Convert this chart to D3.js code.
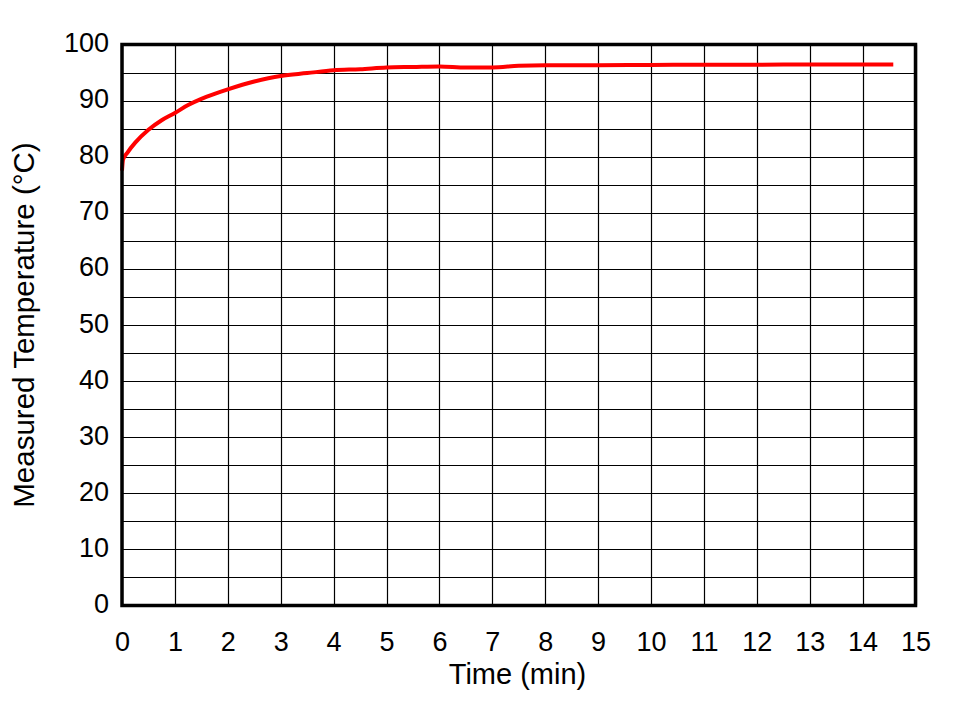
<!DOCTYPE html>
<html>
<head>
<meta charset="utf-8">
<script src="https://cdn.jsdelivr.net/npm/d3@7"></script>
<style>
  html, body { margin: 0; padding: 0; background: #fff; }
  svg { display: block; }
  text { font-family: "Liberation Sans", Arial, sans-serif; fill: #000; }
</style>
</head>
<body>
<svg id="chart" width="956" height="701"></svg>
<script>
const timeMin = [0, 0.02, 0.1, 0.25, 0.5, 0.75, 1, 1.25, 1.5, 1.75, 2, 2.5, 3, 3.5, 4, 4.5, 5, 5.5, 6, 6.5, 7, 7.5, 8, 9, 10, 11, 12, 13, 14, 14.58];
const tempC   = [77.5, 79.5, 80.7, 82.5, 84.8, 86.5, 87.8, 89.2, 90.3, 91.2, 92.0, 93.4, 94.4, 94.9, 95.4, 95.6, 95.9, 96.0, 96.1, 95.9, 95.9, 96.2, 96.3, 96.3, 96.35, 96.4, 96.4, 96.45, 96.45, 96.45];
const xTicks = d3.range(0, 16, 1);
const yTicks = d3.range(0, 101, 10);
const yGrid = d3.range(0, 101, 5);
const xLabel = "Time (min)";
const yLabel = "Measured Temperature (\u00B0C)";

const svg = d3.select("#chart");
const L = 122, R = 915.5, T = 44.5, B = 605.5;
const x = d3.scaleLinear().domain([0, 15]).range([L, R]);
const y = d3.scaleLinear().domain([0, 100]).range([B, T]);

// grid
svg.append("g").selectAll("line").data(xTicks).join("line")
  .attr("x1", d => Math.round(x(d)) + 0.5).attr("x2", d => Math.round(x(d)) + 0.5)
  .attr("y1", T).attr("y2", B)
  .attr("stroke", "#000").attr("stroke-width", 1.2);
svg.append("g").selectAll("line").data(yGrid).join("line")
  .attr("y1", d => Math.round(y(d)) + 0.5).attr("y2", d => Math.round(y(d)) + 0.5)
  .attr("x1", L).attr("x2", R)
  .attr("stroke", "#000").attr("stroke-width", 1.2);

// axes labels via d3 axes (no domain/ticks drawn)
const xAxis = svg.append("g").attr("transform", `translate(0,${B})`)
  .call(d3.axisBottom(x).tickValues(xTicks).tickSize(0).tickPadding(26).tickFormat(d3.format("d")));
xAxis.select(".domain").remove();
xAxis.selectAll("text").attr("font-size", 27).style("font-family", '"Liberation Sans", Arial, sans-serif').attr("fill", "#000");

const yAxis = svg.append("g").attr("transform", `translate(${L},0)`)
  .call(d3.axisLeft(y).tickValues(yTicks).tickSize(0).tickPadding(13).tickFormat(d3.format("d")));
yAxis.select(".domain").remove();
yAxis.selectAll("text").attr("font-size", 27).attr("dy", "0.26em").style("font-family", '"Liberation Sans", Arial, sans-serif').attr("fill", "#000");

// data line
const line = d3.line().x((d, i) => x(timeMin[i])).y(d => y(d)).curve(d3.curveMonotoneX);
svg.append("path").datum(tempC)
  .attr("d", line)
  .attr("fill", "none").attr("stroke", "#ff0000").attr("stroke-width", 4)
  .attr("stroke-linejoin", "round");

// frame
svg.append("rect").attr("x", L).attr("y", T).attr("width", R - L).attr("height", B - T)
  .attr("fill", "none").attr("stroke", "#000").attr("stroke-width", 3.5);

// axis titles
svg.append("text").attr("x", 517.5).attr("y", 684).attr("text-anchor", "middle")
  .attr("font-size", 29).text(xLabel);
svg.append("text").attr("transform", `translate(34,${(T + B) / 2}) rotate(-90)`)
  .attr("text-anchor", "middle").attr("font-size", 29.5).text(yLabel);
</script>
</body>
</html>
